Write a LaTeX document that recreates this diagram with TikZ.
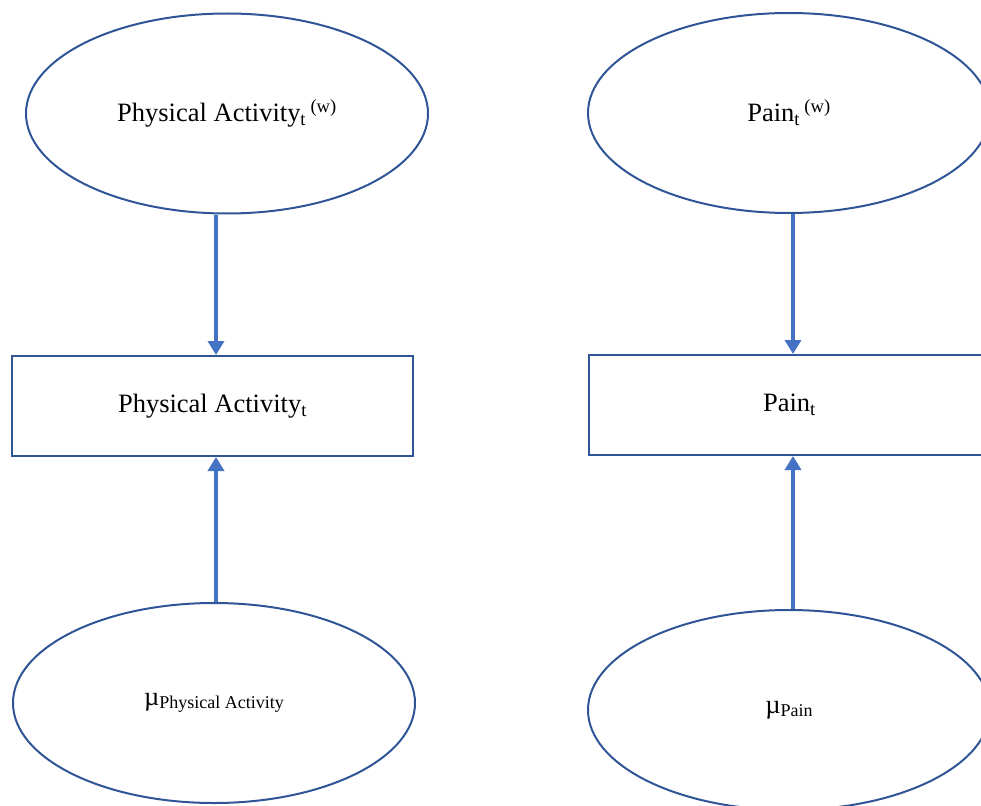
\documentclass[tikz,border=0pt]{standalone}
\usepackage{fontspec}
\setmainfont{Liberation Serif}
\usetikzlibrary{shapes.geometric,arrows.meta}

\definecolor{edgeblue}{RGB}{47,85,151}
\definecolor{arrowblue}{RGB}{68,114,196}

\tikzset{
    latent/.style={ellipse, draw=edgeblue, line width=2pt, inner sep=0pt,
        minimum width=402pt, minimum height=200pt, font=\fontsize{26.5}{30}\selectfont},
    observed/.style={rectangle, draw=edgeblue, line width=2pt, inner sep=0pt,
        minimum width=401pt, minimum height=100pt, font=\fontsize{26.5}{30}\selectfont},
    path/.style={draw=arrowblue, line width=3.5pt, -{Triangle[width=16pt,length=14pt]}}
}

\newcommand{\mulabel}[1]{\textmu\raisebox{-3pt}{\fontsize{18}{20}\selectfont #1}}

\begin{document}
\begin{tikzpicture}[x=1pt, y=-1pt]
    \useasboundingbox (0,0) rectangle (981,805);
    \clip (0,0) rectangle (981,805);

    % physical activity
    \node[latent] (paw) at (227,113.5) {Physical Activity\textsubscript{t}\,\textsuperscript{(w)}};
    \node[observed] (pa) at (212.5,406) {Physical Activity\textsubscript{t}};
    \node[latent] (mupa) at (214,703) {\mulabel{Physical Activity}};

    % pain
    \node[latent] (painw) at (789,113) {Pain\textsubscript{t}\,\textsuperscript{(w)}};
    \node[observed] (pain) at (789.5,405) {Pain\textsubscript{t}};
    \node[latent] (mupain) at (789,710) {\mulabel{Pain}};

    \coordinate (colpa) at (216,0);
    \coordinate (colpain) at (793,0);

    \draw[path] (colpa |- paw.south) -- (colpa |- pa.north);
    \draw[path] (colpa |- mupa.north) -- (colpa |- pa.south);
    \draw[path] (colpain |- painw.south) -- (colpain |- pain.north);
    \draw[path] (colpain |- mupain.north) -- (colpain |- pain.south);
\end{tikzpicture}
\end{document}
